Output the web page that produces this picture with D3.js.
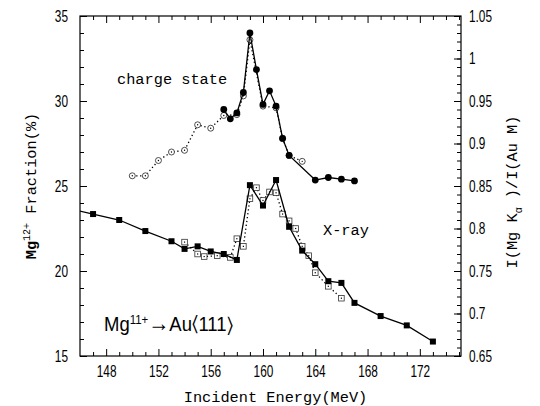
<!DOCTYPE html>
<html>
<head>
<meta charset="utf-8">
<script src="https://cdn.jsdelivr.net/npm/d3@7"></script>
<style>
  body { margin: 0; background: #fff; }
  .tick-label { font-family: "Liberation Sans", "DejaVu Sans", sans-serif; }
  .mono { font-family: "Liberation Mono", "DejaVu Sans Mono", monospace; }
</style>
</head>
<body>
<div id="chart"></div>
<script>
// -------------------------------------------------------------------------
// Data

// charge state, filled circles (left axis, %)
const chargeEnergy = [157, 157.5, 158, 158.5, 159, 159.5, 160, 160.5, 161, 161.5, 162, 164, 165, 166, 167];
const chargeFraction = [29.5, 28.95, 29.3, 30.5, 34.0, 31.85, 29.8, 30.6, 29.7, 27.8, 26.8, 25.35, 25.5, 25.4, 25.3];

// charge state, open circles (left axis, %)
const chargeOpenEnergy = [150, 151, 152, 153, 154, 155, 156, 157, 158, 158.5, 159, 160, 161, 161.5, 162, 163];
const chargeOpenFraction = [25.6, 25.6, 26.5, 27.0, 27.1, 28.6, 28.4, 29.15, 29.2, 30.3, 33.6, 29.7, 29.6, 27.8, 26.8, 26.45];

// X-ray yield ratio, filled squares (right axis)
const xrayEnergy = [145, 147, 149, 151, 153, 154, 155, 156, 157, 158, 159, 160, 161, 162, 163, 164, 165, 166, 167, 169, 171, 173];
const xrayRatio = [0.824, 0.817, 0.810, 0.797, 0.785, 0.776, 0.779, 0.773, 0.770, 0.763, 0.851, 0.827, 0.857, 0.802, 0.774, 0.758, 0.738, 0.736, 0.7125, 0.697, 0.686, 0.667];

// X-ray yield ratio, open squares (right axis)
const xrayOpenEnergy = [154, 155, 155.5, 156.5, 157.5, 158, 158.5, 159, 159.5, 160, 160.5, 161, 161.5, 162, 162.5, 163, 163.5, 164, 165, 166];
const xrayOpenRatio = [0.784, 0.770, 0.767, 0.768, 0.766, 0.788, 0.779, 0.835, 0.848, 0.833, 0.843, 0.842, 0.817, 0.809, 0.800, 0.779, 0.768, 0.748, 0.732, 0.718];

const xMajorTicks = [148, 152, 156, 160, 164, 168, 172];
const yLeftTicks = [15, 20, 25, 30, 35];
const yRightTicks = [0.65, 0.7, 0.75, 0.8, 0.85, 0.9, 0.95, 1, 1.05];

// -------------------------------------------------------------------------
// Layout

const width = 540;
const height = 406;
const plot = { left: 80, right: 461, top: 16, bottom: 356 };
const narrow = 0.74; // horizontal squeeze for the condensed tick digits

const svg = d3.select('#chart').append('svg')
  .attr('width', width)
  .attr('height', height);

const x = d3.scaleLinear().domain([146, 175.15]).range([plot.left, plot.right]);
const yLeft = d3.scaleLinear().domain([15, 35]).range([plot.bottom, plot.top]);
const yRight = d3.scaleLinear().domain([0.65, 1.05]).range([plot.bottom, plot.top]);

svg.append('clipPath').attr('id', 'plot-clip')
  .append('rect')
  .attr('x', plot.left).attr('y', plot.top)
  .attr('width', plot.right - plot.left).attr('height', plot.bottom - plot.top);

// -------------------------------------------------------------------------
// Axes (ticks point inward)

function styleAxis(g) {
  g.select('.domain').remove();
  g.selectAll('.tick line').attr('stroke', '#000').attr('stroke-width', 1);
  g.selectAll('.tick text')
    .attr('class', 'tick-label')
    .attr('fill', '#000')
    .style('font-size', '16px')
    .each(function() {
      // squeeze glyphs horizontally, keeping the anchor where d3 put it
      const t = d3.select(this);
      const tx = +t.attr('x') || 0;
      t.attr('x', tx / narrow).attr('transform', `scale(${narrow},1)`);
    });
}

const xMinor = d3.range(147, 176).filter(v => xMajorTicks.indexOf(v) < 0);

// bottom
svg.append('g').attr('transform', `translate(0,${plot.bottom})`)
  .call(d3.axisBottom(x).tickValues(xMinor).tickSize(-4).tickFormat(''))
  .call(styleAxis);
svg.append('g').attr('transform', `translate(0,${plot.bottom})`)
  .call(d3.axisBottom(x).tickValues(xMajorTicks).tickSize(-7).tickPadding(10).tickFormat(d3.format('d')))
  .call(styleAxis);
// top
svg.append('g').attr('transform', `translate(0,${plot.top})`)
  .call(d3.axisTop(x).tickValues(xMinor).tickSize(-4).tickFormat(''))
  .call(styleAxis);
svg.append('g').attr('transform', `translate(0,${plot.top})`)
  .call(d3.axisTop(x).tickValues(xMajorTicks).tickSize(-7).tickFormat(''))
  .call(styleAxis);

// left
svg.append('g').attr('transform', `translate(${plot.left},0)`)
  .call(d3.axisLeft(yLeft).tickValues(d3.range(16, 35)).tickSize(-4).tickFormat(''))
  .call(styleAxis);
svg.append('g').attr('transform', `translate(${plot.left},0)`)
  .call(d3.axisLeft(yLeft).tickValues(yLeftTicks).tickSize(-7).tickPadding(12).tickFormat(d3.format('d')))
  .call(styleAxis);

// right
svg.append('g').attr('transform', `translate(${plot.right},0)`)
  .call(d3.axisRight(yRight).tickValues(d3.range(66, 105).map(v => v / 100)).tickSize(-4).tickFormat(''))
  .call(styleAxis);
svg.append('g').attr('transform', `translate(${plot.right},0)`)
  .call(d3.axisRight(yRight).tickValues(yRightTicks).tickSize(-7).tickPadding(8).tickFormat(d3.format('~g')))
  .call(styleAxis);

// frame
svg.append('rect')
  .attr('x', plot.left).attr('y', plot.top)
  .attr('width', plot.right - plot.left).attr('height', plot.bottom - plot.top)
  .attr('fill', 'none').attr('stroke', '#000').attr('stroke-width', 1.2);

// -------------------------------------------------------------------------
// Series

const marks = svg.append('g').attr('clip-path', 'url(#plot-clip)');

function drawLine(xs, ys, yScale, dashed) {
  const pts = xs.map((e, i) => [x(e), yScale(ys[i])]);
  marks.append('path')
    .attr('d', d3.line()(pts))
    .attr('fill', 'none')
    .attr('stroke', '#000')
    .attr('stroke-width', 1.3)
    .attr('stroke-dasharray', dashed ? '1.3,2.6' : null);
  return pts;
}

// dotted series first so the filled markers sit on top
const xrayOpenPts = drawLine(xrayOpenEnergy, xrayOpenRatio, yRight, true);
const chargeOpenPts = drawLine(chargeOpenEnergy, chargeOpenFraction, yLeft, true);

marks.selectAll('.open-square').data(xrayOpenPts).enter().append('rect')
  .attr('class', 'open-square')
  .attr('x', d => d[0] - 2.8).attr('y', d => d[1] - 2.8)
  .attr('width', 5.6).attr('height', 5.6)
  .attr('fill', '#fff').attr('stroke', '#333').attr('stroke-width', 0.8);
marks.selectAll('.open-square-dot').data(xrayOpenPts).enter().append('rect')
  .attr('class', 'open-square-dot')
  .attr('x', d => d[0] - 0.6).attr('y', d => d[1] - 0.6)
  .attr('width', 1.2).attr('height', 1.2).attr('fill', '#000');

marks.selectAll('.open-circle').data(chargeOpenPts).enter().append('circle')
  .attr('class', 'open-circle')
  .attr('cx', d => d[0]).attr('cy', d => d[1]).attr('r', 3)
  .attr('fill', '#fff').attr('stroke', '#222').attr('stroke-width', 0.8);
marks.selectAll('.open-circle-dot').data(chargeOpenPts).enter().append('circle')
  .attr('class', 'open-circle-dot')
  .attr('cx', d => d[0]).attr('cy', d => d[1]).attr('r', 0.7).attr('fill', '#000');

const xrayPts = drawLine(xrayEnergy, xrayRatio, yRight, false);
const chargePts = drawLine(chargeEnergy, chargeFraction, yLeft, false);

marks.selectAll('.filled-square').data(xrayPts).enter().append('rect')
  .attr('class', 'filled-square')
  .attr('x', d => d[0] - 3).attr('y', d => d[1] - 3)
  .attr('width', 6).attr('height', 6).attr('fill', '#000');

marks.selectAll('.filled-circle').data(chargePts).enter().append('circle')
  .attr('class', 'filled-circle')
  .attr('cx', d => d[0]).attr('cy', d => d[1]).attr('r', 3.4).attr('fill', '#000');

// -------------------------------------------------------------------------
// Labels

svg.append('text').attr('class', 'mono')
  .attr('x', 117).attr('y', 84).style('font-size', '15.3px')
  .text('charge state');

svg.append('text').attr('class', 'mono')
  .attr('x', 323).attr('y', 235).style('font-size', '15.3px')
  .text('X-ray');

const beam = svg.append('text').attr('class', 'tick-label')
  .attr('transform', 'translate(104,331) scale(0.88,1)').style('font-size', '21px');
beam.append('tspan').text('Mg');
beam.append('tspan').attr('dy', -7).style('font-size', '13px').text('11+');
beam.append('tspan').attr('dy', 7).style('font-size', '24px').text('\u2192');
beam.append('tspan').text('Au\u2329111\u232A');

svg.append('text').attr('class', 'mono')
  .attr('x', (plot.left + plot.right) / 2 + 5).attr('y', 402)
  .attr('text-anchor', 'middle').style('font-size', '15.3px')
  .text('Incident Energy(MeV)');

const leftTitle = svg.append('text').attr('class', 'mono')
  .attr('transform', 'translate(36,186) rotate(-90)')
  .attr('text-anchor', 'middle').style('font-size', '15.3px');
leftTitle.append('tspan').style('font-weight', 'bold').text('Mg');
leftTitle.append('tspan').attr('dy', -6).style('font-size', '10px').text('12+');
leftTitle.append('tspan').attr('dy', 6).text(' Fraction(%)');

const rightTitle = svg.append('text').attr('class', 'mono')
  .attr('transform', 'translate(517,192) rotate(-90)')
  .attr('text-anchor', 'middle').style('font-size', '15.3px');
rightTitle.append('tspan').text('I(Mg K');
rightTitle.append('tspan').attr('dy', 5).style('font-size', '10px').text('\u03B1');
rightTitle.append('tspan').attr('dy', -5).text(' )/I(Au M)');
</script>
</body>
</html>
